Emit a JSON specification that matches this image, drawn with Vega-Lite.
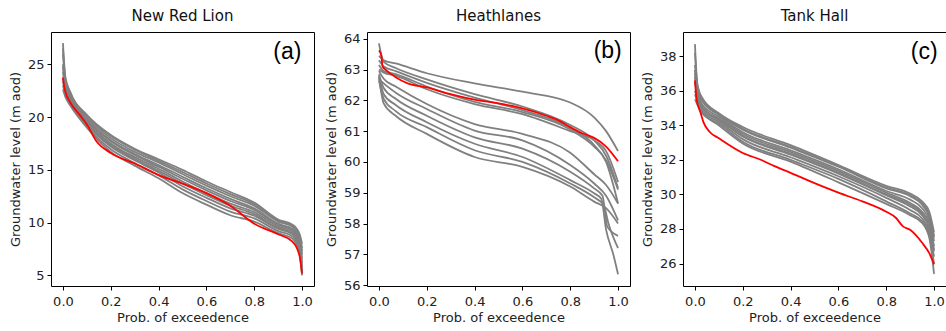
{
  "$schema": "https://vega.github.io/schema/vega-lite/v6.json",
  "background": "white",
  "padding": {"left": 8, "top": 8, "right": 0, "bottom": 0},
  "spacing": 53,
  "bounds": "flush",
  "config": {
    "font": "DejaVu Sans",
    "view": {"stroke": "#000", "strokeWidth": 1},
    "axis": {"grid": false, "domain": false, "tickColor": "#000", "tickSize": 4, "tickWidth": 1, "labelFont": "DejaVu Sans", "labelFontSize": 13, "labelColor": "#222", "titleFont": "DejaVu Sans", "titleFontSize": 13, "titleFontWeight": "normal", "titleColor": "#222", "labelFlush": false, "labelOverlap": false},
    "axisX": {"labelPadding": 5, "titlePadding": 3},
    "axisY": {"labelPadding": 3, "titlePadding": 5, "labelOverlap": false},
    "title": {"font": "DejaVu Sans", "fontSize": 15, "fontWeight": "normal", "color": "#111", "anchor": "middle", "frame": "group", "offset": 8, "baseline": "alphabetic"}
  },
  "datasets": {
    "a": [
      {"s":"L1","x":0,"y":27.0},{"s":"L1","x":0.01,"y":23.8},{"s":"L1","x":0.03,"y":22.4},{"s":"L1","x":0.1,"y":20.2},{"s":"L1","x":0.2,"y":18.3},{"s":"L1","x":0.3,"y":17.0},{"s":"L1","x":0.4,"y":16.0},{"s":"L1","x":0.5,"y":15.0},{"s":"L1","x":0.6,"y":13.9},{"s":"L1","x":0.7,"y":12.9},{"s":"L1","x":0.8,"y":11.9},{"s":"L1","x":0.9,"y":10.3},{"s":"L1","x":0.96,"y":9.8},{"s":"L1","x":0.99,"y":8.9},{"s":"L1","x":1,"y":8.0},
      {"s":"L8","x":0,"y":26.5},{"s":"L8","x":0.01,"y":23.6},{"s":"L8","x":0.03,"y":22.3},{"s":"L8","x":0.1,"y":20.1},{"s":"L8","x":0.2,"y":18.2},{"s":"L8","x":0.3,"y":16.9},{"s":"L8","x":0.4,"y":15.85},{"s":"L8","x":0.5,"y":14.8},{"s":"L8","x":0.6,"y":13.7},{"s":"L8","x":0.7,"y":12.7},{"s":"L8","x":0.8,"y":11.75},{"s":"L8","x":0.9,"y":10.2},{"s":"L8","x":0.96,"y":9.7},{"s":"L8","x":0.99,"y":8.8},{"s":"L8","x":1,"y":7.6},
      {"s":"L2","x":0,"y":26.0},{"s":"L2","x":0.01,"y":23.4},{"s":"L2","x":0.03,"y":22.2},{"s":"L2","x":0.1,"y":20.0},{"s":"L2","x":0.2,"y":18.0},{"s":"L2","x":0.3,"y":16.7},{"s":"L2","x":0.4,"y":15.7},{"s":"L2","x":0.5,"y":14.6},{"s":"L2","x":0.6,"y":13.5},{"s":"L2","x":0.7,"y":12.5},{"s":"L2","x":0.8,"y":11.6},{"s":"L2","x":0.9,"y":10.1},{"s":"L2","x":0.96,"y":9.6},{"s":"L2","x":0.99,"y":8.6},{"s":"L2","x":1,"y":7.3},
      {"s":"L9","x":0,"y":25.0},{"s":"L9","x":0.01,"y":23.1},{"s":"L9","x":0.03,"y":22.0},{"s":"L9","x":0.1,"y":19.8},{"s":"L9","x":0.2,"y":17.8},{"s":"L9","x":0.3,"y":16.5},{"s":"L9","x":0.4,"y":15.45},{"s":"L9","x":0.5,"y":14.35},{"s":"L9","x":0.6,"y":13.25},{"s":"L9","x":0.7,"y":12.25},{"s":"L9","x":0.8,"y":11.35},{"s":"L9","x":0.9,"y":9.9},{"s":"L9","x":0.96,"y":9.4},{"s":"L9","x":0.99,"y":8.4},{"s":"L9","x":1,"y":7.0},
      {"s":"L3","x":0,"y":24.8},{"s":"L3","x":0.01,"y":23.0},{"s":"L3","x":0.03,"y":21.9},{"s":"L3","x":0.1,"y":19.7},{"s":"L3","x":0.2,"y":17.7},{"s":"L3","x":0.3,"y":16.4},{"s":"L3","x":0.4,"y":15.3},{"s":"L3","x":0.5,"y":14.15},{"s":"L3","x":0.6,"y":13.05},{"s":"L3","x":0.7,"y":12.05},{"s":"L3","x":0.8,"y":11.2},{"s":"L3","x":0.9,"y":9.8},{"s":"L3","x":0.96,"y":9.3},{"s":"L3","x":0.99,"y":8.2},{"s":"L3","x":1,"y":6.6},
      {"s":"L4","x":0,"y":24.3},{"s":"L4","x":0.01,"y":22.7},{"s":"L4","x":0.03,"y":21.8},{"s":"L4","x":0.1,"y":19.6},{"s":"L4","x":0.2,"y":17.5},{"s":"L4","x":0.3,"y":16.2},{"s":"L4","x":0.4,"y":15.1},{"s":"L4","x":0.5,"y":13.9},{"s":"L4","x":0.6,"y":12.8},{"s":"L4","x":0.7,"y":11.8},{"s":"L4","x":0.8,"y":11.0},{"s":"L4","x":0.9,"y":9.65},{"s":"L4","x":0.96,"y":9.15},{"s":"L4","x":0.99,"y":8.0},{"s":"L4","x":1,"y":6.2},
      {"s":"L10","x":0,"y":23.8},{"s":"L10","x":0.01,"y":22.5},{"s":"L10","x":0.03,"y":21.6},{"s":"L10","x":0.1,"y":19.4},{"s":"L10","x":0.2,"y":17.35},{"s":"L10","x":0.3,"y":16.05},{"s":"L10","x":0.4,"y":14.9},{"s":"L10","x":0.5,"y":13.7},{"s":"L10","x":0.6,"y":12.6},{"s":"L10","x":0.7,"y":11.6},{"s":"L10","x":0.8,"y":10.8},{"s":"L10","x":0.9,"y":9.5},{"s":"L10","x":0.96,"y":9.0},{"s":"L10","x":0.99,"y":7.8},{"s":"L10","x":1,"y":5.8},
      {"s":"L5","x":0,"y":23.4},{"s":"L5","x":0.01,"y":22.3},{"s":"L5","x":0.03,"y":21.5},{"s":"L5","x":0.1,"y":19.3},{"s":"L5","x":0.2,"y":17.2},{"s":"L5","x":0.3,"y":15.9},{"s":"L5","x":0.4,"y":14.75},{"s":"L5","x":0.5,"y":13.45},{"s":"L5","x":0.6,"y":12.35},{"s":"L5","x":0.7,"y":11.35},{"s":"L5","x":0.8,"y":10.65},{"s":"L5","x":0.9,"y":9.4},{"s":"L5","x":0.96,"y":8.9},{"s":"L5","x":0.99,"y":7.6},{"s":"L5","x":1,"y":5.4},
      {"s":"L6","x":0,"y":23.0},{"s":"L6","x":0.01,"y":22.1},{"s":"L6","x":0.03,"y":21.3},{"s":"L6","x":0.1,"y":19.1},{"s":"L6","x":0.2,"y":16.95},{"s":"L6","x":0.3,"y":15.65},{"s":"L6","x":0.4,"y":14.5},{"s":"L6","x":0.5,"y":13.15},{"s":"L6","x":0.6,"y":12.05},{"s":"L6","x":0.7,"y":11.05},{"s":"L6","x":0.8,"y":10.4},{"s":"L6","x":0.9,"y":9.2},{"s":"L6","x":0.96,"y":8.7},{"s":"L6","x":0.99,"y":7.3},{"s":"L6","x":1,"y":5.1},
      {"s":"L7","x":0,"y":22.6},{"s":"L7","x":0.01,"y":21.9},{"s":"L7","x":0.03,"y":21.1},{"s":"L7","x":0.1,"y":19.0},{"s":"L7","x":0.2,"y":16.7},{"s":"L7","x":0.3,"y":15.4},{"s":"L7","x":0.4,"y":14.2},{"s":"L7","x":0.5,"y":12.8},{"s":"L7","x":0.6,"y":11.7},{"s":"L7","x":0.7,"y":10.7},{"s":"L7","x":0.8,"y":10.1},{"s":"L7","x":0.9,"y":9.0},{"s":"L7","x":0.96,"y":8.5},{"s":"L7","x":0.99,"y":7.0},{"s":"L7","x":1,"y":5.0},
      {"s":"R","x":0,"y":23.7},{"s":"R","x":0.005,"y":22.9},{"s":"R","x":0.01,"y":22.4},{"s":"R","x":0.03,"y":21.4},{"s":"R","x":0.07,"y":20.2},{"s":"R","x":0.1,"y":19.3},{"s":"R","x":0.14,"y":17.7},{"s":"R","x":0.2,"y":16.6},{"s":"R","x":0.3,"y":15.6},{"s":"R","x":0.4,"y":14.5},{"s":"R","x":0.5,"y":13.7},{"s":"R","x":0.6,"y":12.8},{"s":"R","x":0.7,"y":11.6},{"s":"R","x":0.8,"y":9.9},{"s":"R","x":0.9,"y":8.9},{"s":"R","x":0.96,"y":8.2},{"s":"R","x":0.98,"y":7.5},{"s":"R","x":0.99,"y":6.8},{"s":"R","x":1,"y":5.2}
    ],
    "b": [
      {"s":"U1","x":0,"y":63.45},{"s":"U1","x":0.02,"y":63.3},{"s":"U1","x":0.07,"y":63.2},{"s":"U1","x":0.2,"y":62.88},{"s":"U1","x":0.4,"y":62.55},{"s":"U1","x":0.6,"y":62.28},{"s":"U1","x":0.8,"y":61.93},{"s":"U1","x":0.9,"y":61.45},{"s":"U1","x":0.95,"y":61.0},{"s":"U1","x":1,"y":60.35},
      {"s":"U2","x":0,"y":63.85},{"s":"U2","x":0.02,"y":63.25},{"s":"U2","x":0.07,"y":63.05},{"s":"U2","x":0.2,"y":62.68},{"s":"U2","x":0.4,"y":62.2},{"s":"U2","x":0.6,"y":61.8},{"s":"U2","x":0.8,"y":61.2},{"s":"U2","x":0.9,"y":60.7},{"s":"U2","x":0.95,"y":60.2},{"s":"U2","x":1,"y":59.15},
      {"s":"U3","x":0,"y":63.3},{"s":"U3","x":0.02,"y":63.1},{"s":"U3","x":0.07,"y":62.95},{"s":"U3","x":0.2,"y":62.57},{"s":"U3","x":0.4,"y":62.09},{"s":"U3","x":0.6,"y":61.68},{"s":"U3","x":0.8,"y":61.1},{"s":"U3","x":0.9,"y":60.55},{"s":"U3","x":0.95,"y":60.0},{"s":"U3","x":1,"y":58.65},
      {"s":"U4","x":0,"y":63.0},{"s":"U4","x":0.02,"y":62.9},{"s":"U4","x":0.07,"y":62.8},{"s":"U4","x":0.2,"y":62.36},{"s":"U4","x":0.4,"y":61.88},{"s":"U4","x":0.6,"y":61.55},{"s":"U4","x":0.8,"y":61.0},{"s":"U4","x":0.9,"y":60.7},{"s":"U4","x":0.95,"y":60.35},{"s":"U4","x":1,"y":59.35},
      {"s":"U5","x":0,"y":63.15},{"s":"U5","x":0.02,"y":62.95},{"s":"U5","x":0.07,"y":62.85},{"s":"U5","x":0.2,"y":62.45},{"s":"U5","x":0.4,"y":61.95},{"s":"U5","x":0.6,"y":61.62},{"s":"U5","x":0.8,"y":61.05},{"s":"U5","x":0.9,"y":60.5},{"s":"U5","x":0.95,"y":60.05},{"s":"U5","x":1,"y":59.1},
      {"s":"M1","x":0,"y":62.95},{"s":"M1","x":0.02,"y":62.7},{"s":"M1","x":0.07,"y":62.45},{"s":"M1","x":0.2,"y":61.88},{"s":"M1","x":0.4,"y":61.23},{"s":"M1","x":0.6,"y":60.91},{"s":"M1","x":0.8,"y":60.3},{"s":"M1","x":0.9,"y":59.6},{"s":"M1","x":0.95,"y":59.25},{"s":"M1","x":1,"y":58.65},
      {"s":"M2","x":0,"y":62.7},{"s":"M2","x":0.02,"y":62.55},{"s":"M2","x":0.07,"y":62.25},{"s":"M2","x":0.2,"y":61.72},{"s":"M2","x":0.4,"y":61.02},{"s":"M2","x":0.6,"y":60.7},{"s":"M2","x":0.8,"y":59.9},{"s":"M2","x":0.9,"y":59.3},{"s":"M2","x":0.95,"y":58.9},{"s":"M2","x":1,"y":58.1},
      {"s":"M3","x":0,"y":62.85},{"s":"M3","x":0.02,"y":62.4},{"s":"M3","x":0.07,"y":62.05},{"s":"M3","x":0.2,"y":61.5},{"s":"M3","x":0.4,"y":60.8},{"s":"M3","x":0.6,"y":60.43},{"s":"M3","x":0.8,"y":59.68},{"s":"M3","x":0.9,"y":59.14},{"s":"M3","x":0.935,"y":58.9},{"s":"M3","x":0.955,"y":57.9},{"s":"M3","x":1,"y":57.6},
      {"s":"M4","x":0,"y":62.8},{"s":"M4","x":0.02,"y":62.2},{"s":"M4","x":0.07,"y":61.85},{"s":"M4","x":0.2,"y":61.29},{"s":"M4","x":0.4,"y":60.59},{"s":"M4","x":0.6,"y":60.16},{"s":"M4","x":0.8,"y":59.41},{"s":"M4","x":0.9,"y":58.98},{"s":"M4","x":0.93,"y":58.8},{"s":"M4","x":0.95,"y":57.8},{"s":"M4","x":0.98,"y":57.0},{"s":"M4","x":1,"y":56.35},
      {"s":"M5","x":0,"y":62.65},{"s":"M5","x":0.02,"y":62.05},{"s":"M5","x":0.07,"y":61.65},{"s":"M5","x":0.2,"y":61.13},{"s":"M5","x":0.4,"y":60.38},{"s":"M5","x":0.6,"y":60.0},{"s":"M5","x":0.8,"y":59.3},{"s":"M5","x":0.9,"y":58.85},{"s":"M5","x":0.94,"y":58.6},{"s":"M5","x":0.96,"y":58.0},{"s":"M5","x":1,"y":57.2},
      {"s":"M6","x":0,"y":62.75},{"s":"M6","x":0.02,"y":61.9},{"s":"M6","x":0.07,"y":61.5},{"s":"M6","x":0.2,"y":60.91},{"s":"M6","x":0.4,"y":60.16},{"s":"M6","x":0.6,"y":59.84},{"s":"M6","x":0.8,"y":59.2},{"s":"M6","x":0.9,"y":58.71},{"s":"M6","x":0.95,"y":58.5},{"s":"M6","x":1,"y":58.0},
      {"s":"R","x":0,"y":63.62},{"s":"R","x":0.01,"y":63.45},{"s":"R","x":0.015,"y":63.1},{"s":"R","x":0.03,"y":62.98},{"s":"R","x":0.07,"y":62.75},{"s":"R","x":0.12,"y":62.55},{"s":"R","x":0.2,"y":62.42},{"s":"R","x":0.3,"y":62.2},{"s":"R","x":0.4,"y":62.02},{"s":"R","x":0.5,"y":61.9},{"s":"R","x":0.6,"y":61.74},{"s":"R","x":0.7,"y":61.5},{"s":"R","x":0.75,"y":61.35},{"s":"R","x":0.8,"y":61.13},{"s":"R","x":0.85,"y":60.93},{"s":"R","x":0.9,"y":60.78},{"s":"R","x":0.95,"y":60.5},{"s":"R","x":1,"y":60.02}
    ],
    "c": [
      {"s":"C1","x":0,"y":38.7},{"s":"C1","x":0.01,"y":36.4},{"s":"C1","x":0.03,"y":35.6},{"s":"C1","x":0.1,"y":34.7},{"s":"C1","x":0.2,"y":33.9},{"s":"C1","x":0.4,"y":32.85},{"s":"C1","x":0.6,"y":31.7},{"s":"C1","x":0.8,"y":30.5},{"s":"C1","x":0.9,"y":30.05},{"s":"C1","x":0.95,"y":29.6},{"s":"C1","x":0.98,"y":29.0},{"s":"C1","x":1,"y":27.8},
      {"s":"C9","x":0,"y":38.2},{"s":"C9","x":0.01,"y":36.3},{"s":"C9","x":0.03,"y":35.5},{"s":"C9","x":0.1,"y":34.65},{"s":"C9","x":0.2,"y":33.8},{"s":"C9","x":0.4,"y":32.75},{"s":"C9","x":0.6,"y":31.65},{"s":"C9","x":0.8,"y":30.4},{"s":"C9","x":0.9,"y":29.95},{"s":"C9","x":0.95,"y":29.5},{"s":"C9","x":0.98,"y":28.8},{"s":"C9","x":1,"y":27.6},
      {"s":"C2","x":0,"y":37.5},{"s":"C2","x":0.01,"y":36.2},{"s":"C2","x":0.03,"y":35.4},{"s":"C2","x":0.1,"y":34.6},{"s":"C2","x":0.2,"y":33.75},{"s":"C2","x":0.4,"y":32.7},{"s":"C2","x":0.6,"y":31.6},{"s":"C2","x":0.8,"y":30.35},{"s":"C2","x":0.9,"y":29.9},{"s":"C2","x":0.95,"y":29.4},{"s":"C2","x":0.98,"y":28.7},{"s":"C2","x":1,"y":27.5},
      {"s":"C3","x":0,"y":37.0},{"s":"C3","x":0.01,"y":36.0},{"s":"C3","x":0.03,"y":35.2},{"s":"C3","x":0.1,"y":34.5},{"s":"C3","x":0.2,"y":33.6},{"s":"C3","x":0.4,"y":32.55},{"s":"C3","x":0.6,"y":31.45},{"s":"C3","x":0.8,"y":30.2},{"s":"C3","x":0.9,"y":29.7},{"s":"C3","x":0.95,"y":29.2},{"s":"C3","x":0.98,"y":28.5},{"s":"C3","x":1,"y":27.3},
      {"s":"C10","x":0,"y":37.2},{"s":"C10","x":0.01,"y":35.9},{"s":"C10","x":0.03,"y":35.1},{"s":"C10","x":0.1,"y":34.35},{"s":"C10","x":0.2,"y":33.4},{"s":"C10","x":0.4,"y":32.35},{"s":"C10","x":0.6,"y":31.25},{"s":"C10","x":0.8,"y":30.0},{"s":"C10","x":0.9,"y":29.4},{"s":"C10","x":0.95,"y":28.9},{"s":"C10","x":0.98,"y":28.1},{"s":"C10","x":1,"y":26.8},
      {"s":"C4","x":0,"y":36.5},{"s":"C4","x":0.01,"y":35.8},{"s":"C4","x":0.03,"y":35.0},{"s":"C4","x":0.1,"y":34.4},{"s":"C4","x":0.2,"y":33.5},{"s":"C4","x":0.4,"y":32.45},{"s":"C4","x":0.6,"y":31.35},{"s":"C4","x":0.8,"y":30.1},{"s":"C4","x":0.9,"y":29.5},{"s":"C4","x":0.95,"y":29.0},{"s":"C4","x":0.98,"y":28.3},{"s":"C4","x":1,"y":27.0},
      {"s":"C5","x":0,"y":36.0},{"s":"C5","x":0.01,"y":35.6},{"s":"C5","x":0.03,"y":34.9},{"s":"C5","x":0.1,"y":34.3},{"s":"C5","x":0.2,"y":33.35},{"s":"C5","x":0.4,"y":32.3},{"s":"C5","x":0.6,"y":31.2},{"s":"C5","x":0.8,"y":29.95},{"s":"C5","x":0.9,"y":29.3},{"s":"C5","x":0.95,"y":28.8},{"s":"C5","x":0.98,"y":28.0},{"s":"C5","x":1,"y":26.7},
      {"s":"C6","x":0,"y":35.8},{"s":"C6","x":0.01,"y":35.4},{"s":"C6","x":0.03,"y":34.8},{"s":"C6","x":0.1,"y":34.2},{"s":"C6","x":0.2,"y":33.2},{"s":"C6","x":0.4,"y":32.15},{"s":"C6","x":0.6,"y":31.05},{"s":"C6","x":0.8,"y":29.8},{"s":"C6","x":0.9,"y":29.1},{"s":"C6","x":0.95,"y":28.6},{"s":"C6","x":0.98,"y":27.8},{"s":"C6","x":1,"y":26.4},
      {"s":"C7","x":0,"y":35.5},{"s":"C7","x":0.01,"y":35.2},{"s":"C7","x":0.03,"y":34.7},{"s":"C7","x":0.1,"y":34.1},{"s":"C7","x":0.2,"y":33.05},{"s":"C7","x":0.4,"y":32.0},{"s":"C7","x":0.6,"y":30.9},{"s":"C7","x":0.8,"y":29.6},{"s":"C7","x":0.9,"y":28.9},{"s":"C7","x":0.95,"y":28.45},{"s":"C7","x":0.98,"y":27.6},{"s":"C7","x":1,"y":26.0},
      {"s":"C8","x":0,"y":36.8},{"s":"C8","x":0.01,"y":35.5},{"s":"C8","x":0.03,"y":34.8},{"s":"C8","x":0.1,"y":34.0},{"s":"C8","x":0.2,"y":32.95},{"s":"C8","x":0.4,"y":31.9},{"s":"C8","x":0.6,"y":30.7},{"s":"C8","x":0.8,"y":29.45},{"s":"C8","x":0.9,"y":28.8},{"s":"C8","x":0.95,"y":28.35},{"s":"C8","x":0.98,"y":27.5},{"s":"C8","x":1,"y":25.4},
      {"s":"R","x":0,"y":36.6},{"s":"R","x":0.007,"y":35.5},{"s":"R","x":0.024,"y":34.7},{"s":"R","x":0.035,"y":34.2},{"s":"R","x":0.063,"y":33.6},{"s":"R","x":0.1,"y":33.25},{"s":"R","x":0.2,"y":32.4},{"s":"R","x":0.28,"y":31.98},{"s":"R","x":0.33,"y":31.65},{"s":"R","x":0.4,"y":31.25},{"s":"R","x":0.5,"y":30.65},{"s":"R","x":0.6,"y":30.1},{"s":"R","x":0.7,"y":29.6},{"s":"R","x":0.8,"y":29.0},{"s":"R","x":0.84,"y":28.65},{"s":"R","x":0.87,"y":28.15},{"s":"R","x":0.9,"y":27.95},{"s":"R","x":0.95,"y":27.2},{"s":"R","x":0.98,"y":26.6},{"s":"R","x":1,"y":25.95}
    ]
  },
  "hconcat": [
    {
      "width": 263, "height": 254,
      "title": "New Red Lion",
      "encoding": {
        "x": {"field": "x", "type": "quantitative", "scale": {"domain": [-0.05, 1.05], "nice": false, "zero": false}, "axis": {"values": [0, 0.2, 0.4, 0.6, 0.8, 1], "format": ".1f", "title": "Prob. of exceedence", "labelOverlap": false}},
        "y": {"field": "y", "type": "quantitative", "scale": {"domain": [4.0, 28.05], "nice": false, "zero": false}, "axis": {"values": [5, 10, 15, 20, 25], "title": "Groundwater level (m aod)", "labelOverlap": false}}
      },
      "layer": [
        {"data": {"name": "a"}, "transform": [{"filter": "datum.s !== 'R'"}],
         "mark": {"type": "line", "interpolate": "monotone", "color": "#808080", "strokeWidth": 1.8},
         "encoding": {"detail": {"field": "s"}}},
        {"data": {"name": "a"}, "transform": [{"filter": "datum.s === 'R'"}],
         "mark": {"type": "line", "interpolate": "monotone", "color": "#ff0000", "strokeWidth": 1.8},
         "encoding": {}},
        {"data": {"values": [{"t": "(a)", "x": 0.88, "y": 25.53}]},
         "mark": {"type": "text", "align": "left", "baseline": "alphabetic", "font": "Liberation Sans", "fontSize": 23, "color": "#000"},
         "encoding": {"text": {"field": "t"}}}
      ]
    },
    {
      "width": 263, "height": 254,
      "title": "Heathlanes",
      "encoding": {
        "x": {"field": "x", "type": "quantitative", "scale": {"domain": [-0.05, 1.05], "nice": false, "zero": false}, "axis": {"values": [0, 0.2, 0.4, 0.6, 0.8, 1], "format": ".1f", "title": "Prob. of exceedence", "labelOverlap": false}},
        "y": {"field": "y", "type": "quantitative", "scale": {"domain": [55.97, 64.22], "nice": false, "zero": false}, "axis": {"tickCount": 9, "format": "d", "title": "Groundwater level (m aod)", "labelOverlap": false}}
      },
      "layer": [
        {"data": {"name": "b"}, "transform": [{"filter": "datum.s !== 'R'"}],
         "mark": {"type": "line", "interpolate": "monotone", "color": "#808080", "strokeWidth": 1.8},
         "encoding": {"detail": {"field": "s"}}},
        {"data": {"name": "b"}, "transform": [{"filter": "datum.s === 'R'"}],
         "mark": {"type": "line", "interpolate": "monotone", "color": "#ff0000", "strokeWidth": 1.8},
         "encoding": {}},
        {"data": {"values": [{"t": "(b)", "x": 0.898, "y": 63.36}]},
         "mark": {"type": "text", "align": "left", "baseline": "alphabetic", "font": "Liberation Sans", "fontSize": 23, "color": "#000"},
         "encoding": {"text": {"field": "t"}}}
      ]
    },
    {
      "width": 263, "height": 254,
      "title": "Tank Hall",
      "encoding": {
        "x": {"field": "x", "type": "quantitative", "scale": {"domain": [-0.05, 1.05], "nice": false, "zero": false}, "axis": {"values": [0, 0.2, 0.4, 0.6, 0.8, 1], "format": ".1f", "title": "Prob. of exceedence", "labelOverlap": false}},
        "y": {"field": "y", "type": "quantitative", "scale": {"domain": [24.7, 39.4], "nice": false, "zero": false}, "axis": {"values": [26, 28, 30, 32, 34, 36, 38], "title": "Groundwater level (m aod)", "labelOverlap": false}}
      },
      "layer": [
        {"data": {"name": "c"}, "transform": [{"filter": "datum.s !== 'R'"}],
         "mark": {"type": "line", "interpolate": "monotone", "color": "#808080", "strokeWidth": 1.8},
         "encoding": {"detail": {"field": "s"}}},
        {"data": {"name": "c"}, "transform": [{"filter": "datum.s === 'R'"}],
         "mark": {"type": "line", "interpolate": "monotone", "color": "#ff0000", "strokeWidth": 1.8},
         "encoding": {}},
        {"data": {"values": [{"t": "(c)", "x": 0.903, "y": 37.86}]},
         "mark": {"type": "text", "align": "left", "baseline": "alphabetic", "font": "Liberation Sans", "fontSize": 23, "color": "#000"},
         "encoding": {"text": {"field": "t"}}}
      ]
    }
  ]
}
